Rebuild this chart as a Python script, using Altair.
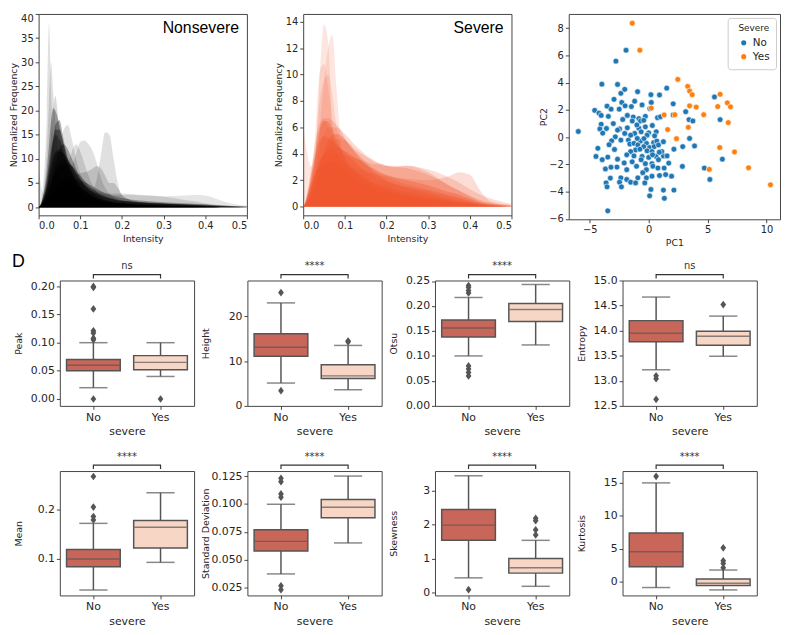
import altair as alt
import pandas as pd

# ---------------- data: intensity histograms ----------------
INTENSITY = [0.0, 0.005, 0.01, 0.02, 0.025, 0.03, 0.035, 0.04, 0.05, 0.06, 0.07, 0.08, 0.09,
             0.10, 0.11, 0.12, 0.13, 0.14, 0.15, 0.16, 0.17, 0.18, 0.19, 0.20, 0.22, 0.25,
             0.30, 0.35, 0.375, 0.40, 0.425, 0.45, 0.50]

NS_01 = [0, 1, 4, 20, 38, 24, 14, 10, 6, 4, 3, 2.2, 1.6, 1.2, 1.0, 0.8, 0.6, 0.5, 0.4, 0.3, 0.3, 0.2, 0.2, 0.2, 0.1, 0.1, 0.1, 0, 0, 0, 0, 0, 0]
NS_02 = [0, 0.5, 2, 12, 22, 30, 24, 18, 10, 6, 4, 3, 2.2, 1.8, 1.4, 1.1, 0.9, 0.7, 0.6, 0.5, 0.4, 0.3, 0.3, 0.2, 0.2, 0.1, 0.1, 0.1, 0, 0, 0, 0, 0]
NS_03 = [0, 0.3, 1, 6, 10, 15, 20, 23, 16, 10, 7, 5, 3.5, 2.5, 2, 1.6, 1.3, 1.0, 0.8, 0.7, 0.6, 0.5, 0.4, 0.4, 0.3, 0.2, 0.1, 0.1, 0.05, 0, 0, 0, 0]
NS_04 = [0, 0.5, 2, 8, 13, 18, 20.5, 20, 17, 13, 9, 6.5, 4.5, 3.2, 2.5, 2, 1.6, 1.3, 1.1, 0.9, 0.8, 0.7, 0.6, 0.5, 0.4, 0.3, 0.2, 0.1, 0.1, 0.05, 0, 0, 0]
NS_05 = [0, 0.3, 1, 4, 7, 10, 14, 17, 18, 14, 10, 7, 5, 3.5, 2.8, 2.2, 1.8, 1.5, 1.2, 1.0, 0.9, 0.8, 0.7, 0.6, 0.5, 0.4, 0.3, 0.2, 0.15, 0.1, 0.05, 0, 0]
NS_06 = [0, 0.2, 0.5, 2, 3, 4, 6, 8, 12, 16, 17, 14, 10, 7, 5, 3.5, 2.5, 2, 1.6, 1.3, 1.1, 0.9, 0.8, 0.7, 0.5, 0.4, 0.3, 0.2, 0.15, 0.1, 0.05, 0, 0]
NS_07 = [0, 0.5, 1.5, 5, 8, 11, 14, 16, 16, 13, 10, 8, 6, 4.5, 3.5, 2.8, 2.2, 1.8, 1.5, 1.2, 1.0, 0.9, 0.8, 0.7, 0.6, 0.4, 0.3, 0.2, 0.15, 0.1, 0.05, 0, 0]
NS_08 = [0, 0.2, 0.6, 2, 3.5, 5, 7, 9, 12, 13, 12, 10, 8, 6, 4.5, 3.5, 2.8, 2.2, 1.8, 1.5, 1.2, 1.0, 0.9, 0.8, 0.6, 0.5, 0.3, 0.2, 0.15, 0.1, 0.05, 0, 0]
NS_09 = [0, 0, 0.2, 0.8, 1.2, 1.6, 2, 2.6, 4, 6, 9, 11.5, 13, 11.5, 9, 6.5, 4.5, 3, 2.2, 1.6, 1.2, 1.0, 0.8, 0.7, 0.5, 0.4, 0.3, 0.2, 0.15, 0.1, 0.05, 0, 0]
NS_10 = [0, 0, 0.1, 0.5, 0.8, 1.0, 1.3, 1.6, 2.5, 4, 6, 8.5, 11, 13.5, 13.8, 13, 11.5, 9, 6, 4, 2.8, 2, 1.5, 1.2, 0.8, 0.5, 0.3, 0.2, 0.15, 0.1, 0.05, 0, 0]
NS_11 = [0, 0.2, 0.5, 1.5, 2, 2.5, 3, 3.5, 4, 4.5, 4.5, 4.5, 4.2, 4, 3.6, 3.2, 3.5, 6, 11, 15.5, 15, 10, 5, 2.5, 1.5, 1.0, 0.6, 0.4, 0.3, 0.2, 0.1, 0.1, 0]
NS_12 = [0, 0.2, 0.5, 1.2, 1.8, 2.4, 3, 3.5, 4.5, 5.5, 6, 6.5, 6.8, 7, 7.2, 7.5, 8, 8.5, 8, 6.5, 5, 5, 4, 2.5, 1.5, 1.0, 0.6, 0.4, 0.3, 0.2, 0.1, 0.1, 0]
NS_13 = [0, 0.2, 0.5, 1.5, 2, 2.5, 3, 3.5, 4, 4.2, 4.2, 4, 3.8, 3.6, 3.4, 3.2, 3, 2.9, 2.8, 2.7, 2.6, 2.5, 2.5, 2.5, 2.5, 2.4, 2.2, 2.4, 2.5, 2.4, 1.8, 1.0, 0.3]
NS_14 = [0, 0.3, 1, 3, 4.5, 6, 7, 7.5, 7.5, 7, 6.5, 6, 5.5, 5, 4.5, 4, 3.7, 3.4, 3.2, 3.0, 2.9, 2.8, 2.8, 2.8, 2.7, 2.5, 2.2, 1.5, 1.2, 0.8, 0.5, 0.3, 0.1]
NS_15 = [0, 0.5, 1.5, 4, 6, 8, 10, 11, 11.5, 11, 10, 8.5, 7, 5.5, 4.5, 3.8, 3.2, 2.7, 2.3, 2.0, 1.8, 1.6, 1.4, 1.3, 1.1, 0.9, 0.7, 0.5, 0.4, 0.3, 0.2, 0.1, 0]
NS_16 = [0, 0.3, 1, 3, 4, 5, 6, 7, 8.5, 9, 9, 8.5, 7.5, 6.5, 5.5, 4.5, 3.8, 3.2, 2.7, 2.3, 2.0, 1.8, 1.6, 1.4, 1.2, 1.0, 0.8, 0.6, 0.5, 0.4, 0.3, 0.2, 0.1]
NS_17 = [0, 0.4, 1.2, 4, 6, 8, 10, 11.5, 12, 11, 9, 7, 5.5, 4.2, 3.4, 2.8, 2.3, 1.9, 1.6, 1.4, 1.2, 1.0, 0.9, 0.8, 0.7, 0.5, 0.4, 0.3, 0.25, 0.2, 0.15, 0.1, 0]
NS_18 = [0, 0.2, 0.6, 1.5, 2, 2.5, 3, 3.5, 4.5, 5.5, 6, 6, 5.8, 5.5, 5.2, 4.8, 4.3, 3.8, 3.3, 2.9, 2.6, 2.3, 2.1, 1.9, 1.6, 1.3, 1.0, 0.8, 0.7, 0.6, 0.4, 0.3, 0.1]
NS_19 = [0, 0.1, 0.3, 0.6, 0.8, 1.0, 1.2, 1.4, 1.6, 1.8, 1.8, 1.8, 1.7, 1.6, 1.5, 1.4, 1.3, 1.2, 1.1, 1.0, 1.0, 0.9, 0.9, 0.9, 0.8, 0.8, 0.7, 0.6, 0.55, 0.5, 0.4, 0.3, 0.1]
NS_20 = [0, 0.5, 2, 6, 9, 12, 14, 15, 14, 11.5, 9, 7, 5.2, 4, 3.2, 2.6, 2.1, 1.7, 1.4, 1.2, 1.0, 0.9, 0.8, 0.7, 0.6, 0.4, 0.3, 0.2, 0.15, 0.1, 0.05, 0, 0]
NS_21 = [0, 0.3, 0.8, 2.5, 3.5, 5, 6.5, 8, 9.5, 10, 9.5, 8.5, 7, 5.8, 4.8, 4, 3.3, 2.8, 2.4, 2.1, 1.8, 1.6, 1.4, 1.3, 1.1, 0.9, 0.7, 0.5, 0.4, 0.3, 0.2, 0.1, 0]
NS_22 = [8, 5, 3, 2, 2, 2.5, 3, 3.5, 4, 4, 3.5, 3, 2.5, 2, 1.7, 1.4, 1.2, 1, 0.9, 0.8, 0.7, 0.6, 0.5, 0.5, 0.4, 0.3, 0.2, 0.1, 0.1, 0.1, 0, 0, 0]

NONSEVERE = [NS_01, NS_02, NS_03, NS_04, NS_05, NS_06, NS_07, NS_08, NS_09, NS_10, NS_11,
             NS_12, NS_13, NS_14, NS_15, NS_16, NS_17, NS_18, NS_19, NS_20, NS_21, NS_22]
NONSEVERE_ALPHA = [0.12, 0.12, 0.15, 0.3, 0.3, 0.12, 0.35, 0.3, 0.12, 0.12, 0.12,
                   0.15, 0.1, 0.12, 0.35, 0.35, 0.35, 0.3, 0.3, 0.3, 0.35, 0.1]

SV_01 = [0, 0.2, 0.5, 1.5, 2.5, 4, 7, 10, 13.8, 12.5, 6, 4, 3, 2.6, 2.3, 2.1, 1.9, 1.7, 1.5, 1.4, 1.3, 1.2, 1.1, 1.0, 0.9, 0.7, 0.5, 0.3, 0.2, 0.1, 0.05, 0, 0]
SV_02 = [0, 0.1, 0.3, 1, 1.5, 2.5, 4, 6, 9.5, 12, 13, 9, 5, 3.5, 2.8, 2.4, 2.1, 1.9, 1.7, 1.5, 1.4, 1.3, 1.2, 1.1, 1.0, 0.8, 0.6, 0.4, 0.3, 0.2, 0.1, 0.05, 0]
SV_03 = [0, 0.3, 0.8, 2.5, 4, 6, 8.5, 10.3, 10.8, 9, 6.5, 4.5, 3.5, 3, 2.6, 2.3, 2.1, 1.9, 1.7, 1.5, 1.4, 1.3, 1.2, 1.1, 1.0, 0.8, 0.6, 0.4, 0.3, 0.2, 0.1, 0.05, 0]
SV_04 = [0, 0.2, 0.6, 2, 3, 4.5, 6.5, 8, 9.5, 10, 8.5, 6, 4.5, 3.6, 3, 2.6, 2.3, 2.1, 1.9, 1.7, 1.5, 1.4, 1.3, 1.2, 1.0, 0.8, 0.6, 0.4, 0.3, 0.2, 0.1, 0.05, 0]
SV_05 = [0, 0.3, 1, 3, 4, 5, 5.8, 6.3, 6.7, 6.7, 6.5, 6.2, 5.8, 5.2, 4.7, 4.3, 4.0, 3.7, 3.4, 3.1, 2.9, 2.7, 2.5, 2.3, 2.0, 1.7, 1.3, 0.9, 0.7, 0.5, 0.3, 0.2, 0]
SV_06 = [0, 0.2, 0.5, 1.5, 2.2, 3, 3.8, 4.5, 5.5, 6, 6, 6, 5.8, 5.5, 5.2, 4.8, 4.5, 4.2, 3.9, 3.7, 3.5, 3.3, 3.2, 3.1, 3.0, 3.1, 2.6, 1.6, 1.2, 0.8, 0.5, 0.3, 0.1]
SV_07 = [0, 0.1, 0.4, 1.2, 1.8, 2.4, 3, 3.4, 3.8, 4, 4, 3.8, 3.6, 3.4, 3.2, 3, 2.9, 2.8, 2.7, 2.6, 2.5, 2.4, 2.3, 2.3, 2.2, 2.1, 2.0, 2.3, 2.6, 2.4, 1.2, 0.4, 0.1]
SV_08 = [0, 0.1, 0.3, 1, 1.5, 2, 2.6, 3.2, 4, 4.6, 5, 5.1, 5.1, 5, 4.8, 4.5, 4.2, 4, 3.8, 3.6, 3.4, 3.3, 3.2, 3.1, 3.0, 2.9, 2.4, 1.6, 1.2, 0.8, 0.4, 0.2, 0]
SV_09 = [6.5, 5, 4, 3, 3.5, 4.5, 5.5, 6, 6.5, 6, 5, 4.2, 3.6, 3.2, 2.9, 2.6, 2.3, 2.1, 1.9, 1.7, 1.5, 1.4, 1.3, 1.2, 1.0, 0.8, 0.5, 0.3, 0.2, 0.1, 0.05, 0, 0]
SV_10 = [0, 0.3, 1, 2.5, 3.2, 4, 4.6, 5, 5.3, 5.2, 5, 4.7, 4.4, 4.1, 3.8, 3.5, 3.2, 2.9, 2.7, 2.5, 2.3, 2.1, 2.0, 1.9, 1.7, 1.5, 1.2, 0.8, 0.6, 0.4, 0.2, 0.1, 0]
SV_11 = [0, 0.2, 0.6, 1.5, 2, 2.5, 3, 3.5, 4, 4.3, 4.5, 4.5, 4.4, 4.2, 4.0, 3.8, 3.6, 3.4, 3.2, 3.0, 2.8, 2.6, 2.5, 2.4, 2.2, 2.0, 1.6, 1.1, 0.9, 0.6, 0.3, 0.15, 0.05]
SV_12 = [0, 0.1, 0.3, 1, 1.5, 2, 2.6, 3.2, 4.2, 5, 5.4, 5.5, 5.4, 5.1, 4.7, 4.3, 3.9, 3.5, 3.2, 2.9, 2.6, 2.4, 2.2, 2.0, 1.7, 1.4, 1.0, 0.6, 0.4, 0.3, 0.1, 0.05, 0]
SV_13 = [0, 0.1, 0.3, 0.8, 1.2, 1.6, 2, 2.4, 3, 3.5, 3.8, 4, 4, 3.9, 3.8, 3.7, 3.6, 3.5, 3.4, 3.3, 3.2, 3.2, 3.1, 3.1, 3.1, 3.1, 2.8, 2.2, 1.8, 1.3, 0.9, 0.6, 0.2]
SV_14 = [0, 0.3, 0.8, 1.8, 2.2, 2.6, 2.9, 3.1, 3.3, 3.4, 3.4, 3.3, 3.2, 3.1, 3.0, 2.8, 2.6, 2.4, 2.2, 2.0, 1.8, 1.7, 1.6, 1.5, 1.3, 1.1, 0.8, 0.5, 0.4, 0.3, 0.2, 0.1, 0]
SV_15 = [0, 0.2, 0.6, 2, 3, 4, 5, 5.8, 6.5, 6.4, 5.8, 5, 4.3, 3.7, 3.2, 2.8, 2.5, 2.2, 2.0, 1.8, 1.6, 1.5, 1.4, 1.3, 1.1, 0.9, 0.6, 0.4, 0.3, 0.2, 0.1, 0.05, 0]

SEVERE = [SV_01, SV_02, SV_03, SV_04, SV_05, SV_06, SV_07, SV_08, SV_09, SV_10, SV_11,
          SV_12, SV_13, SV_14, SV_15]
SEVERE_ALPHA = [0.15, 0.15, 0.15, 0.15, 0.22, 0.22, 0.2, 0.22, 0.15, 0.35, 0.35,
                0.35, 0.2, 0.4, 0.35]

# ---------------- data: PCA scatter ----------------
PC1_NO = [-5.97, -3.47, -1.92, -2.78, -3.97, -2.64, -2.36, -2.03, -0.94, 0.19, 0.92, 1.53, 5.58,
          -2.94, -1.19, -2.28, 0.22, 2.08, -4.58, -4.22, -3.53, -3.19, -2.50, -2.00, -1.47, -0.56,
          3.14, 6.06, 3.42, 3.75, 0.75, 2.08, -4.03, -3.42, -1.81, -1.31, -0.83, -0.28, -4.03,
          -3.58, -4.14, -2.47, -2.64, -1.81, -1.39, -0.69, -0.28, -0.83, 0.00, 0.64, 0.31, -0.42,
          -2.83, -3.14, -3.36, -4.31, -2.36, -1.72, -1.19, -0.64, -1.60, -1.25, -0.69, -0.19, 0.42,
          0.69, -0.92, -0.42, 0.08, 0.47, 0.83, -0.14, 0.28, -1.11, -0.75, -1.53, -1.86, -1.25,
          -0.56, 0.00, 0.64, 1.25, 1.56, 2.14, 2.89, 3.47, 3.89, -4.47, -3.94, -3.47, -2.64, -2.08,
          -0.28, 0.28, -1.03, -0.64, -0.19, 0.36, 0.83, -3.67, -2.69, -1.86, 1.31, 2.86, 4.72, 5.19,
          6.25, 1.44, 1.94, 0.92, 0.28, -0.19, -0.92, -2.36, -1.86, -3.25, -1.53, -1.11, -0.33,
          -2.47, -3.61, -3.53, -2.31, 0.19, 1.25, 2.14, 0.08, 1.33, 0.78, 0.33, -0.97, -1.53, -2.03,
          1.11, 1.25, -0.14, -1.00, -0.40, 0.50, 1.00, -2.90, -3.00, 0.90, -0.50, -2.20, -3.20,
          1.70, -1.40, 0.10, -3.90]
PC2_NO = [0.42, -5.40, 6.38, 5.58, 3.89, 3.87, 3.22, 3.51, 3.34, 3.12, 3.10, 3.60, 2.95,
          2.78, 2.64, 2.55, 2.55, 2.45, 1.97, 1.77, 2.28, 2.06, 2.06, 2.30, 2.25, 2.37,
          1.87, 1.29, 1.29, 1.19, 1.43, 1.63, 1.60, 1.53, 1.60, 1.48, 1.36, 1.53, 0.95,
          0.64, 0.61, 0.61, 0.52, 0.69, 1.19, 1.19, 0.76, 0.66, 0.32, 0.40, 0.86, 1.24,
          0.03, -0.26, -0.55, -0.81, -0.21, -0.21, 0.28, 0.40, -0.50, -0.45, -0.28, -0.45, -0.40,
          -0.28, -0.57, -0.69, -0.76, -0.69, -0.57, -1.00, -1.05, -0.93, -0.88, -1.05, -1.29, -1.37,
          -1.41, -1.48, -1.41, -1.37, -1.37, -0.88, -0.69, -0.09, -0.64, -1.41, -1.65, -1.46, -1.61, -1.89,
          -1.94, -1.94, -2.13, -1.65, -2.38, -2.13, -1.65, -2.33, -2.19, -2.38, -2.26, -2.14, -2.26, -3.10,
          -1.61, -2.74, -2.86, -2.81, -2.86, -2.98, -2.98, -2.98, -3.10, -3.00, -3.30, -3.35, -3.35,
          -3.30, -3.35, -3.64, -3.64, -3.83, -3.88, -3.88, -4.30, -4.48, -2.26, -1.29, -0.09, 0.15, 0.28,
          -1.05, -0.33, 0.15, 0.90, -0.10, 0.10, 1.50, -0.90, 1.00, -1.10, -2.60, 1.30, -2.20,
          -1.90, -1.80, 2.10, 0.30]
PC1_YES = [-1.39, -0.75, 2.47, 3.31, 3.47, 3.69, 3.47, 4.03, 0.22, 1.31, 2.22, 4.67, 6.06,
           5.86, 6.67, 6.94, 6.75, 1.61, 2.36, 3.36, 6.03, 7.28, 5.14, 8.47, 10.33]
PC2_YES = [8.36, 6.38, 4.24, 3.73, 3.39, 3.12, 2.30, 2.21, 2.14, 1.63, 1.65, 1.65, 3.15,
           2.25, 2.52, 2.23, 1.07, 0.56, -0.11, 0.73, -0.76, -1.08, -2.36, -2.24, -3.49]

# ---------------- data: box plots (whisker low, q1, median, q3, whisker high) ----------------
PANELS = ["Peak", "Height", "Otsu", "Entropy", "Mean", "Standard Deviation", "Skewness", "Kurtosis"]
SIGNIF = ["ns", "****", "****", "ns", "****", "****", "****", "****"]

PEAK_NO = [0.020, 0.050, 0.060, 0.070, 0.100]
PEAK_YES = [0.040, 0.052, 0.065, 0.077, 0.100]
PEAK_NO_OUT = [0.200, 0.198, 0.160, 0.121, 0.117, 0.108, 0.105, 0.0]
PEAK_YES_OUT = [0.0]
HEIGHT_NO = [5.1, 11.1, 13.1, 16.1, 23.0]
HEIGHT_YES = [3.6, 6.1, 6.7, 9.2, 13.5]
HEIGHT_NO_OUT = [25.3, 3.4]
HEIGHT_YES_OUT = [14.5, 14.3]
OTSU_NO = [0.100, 0.138, 0.156, 0.172, 0.217]
OTSU_YES = [0.122, 0.169, 0.193, 0.205, 0.243]
OTSU_NO_OUT = [0.241, 0.237, 0.231, 0.226, 0.080, 0.074, 0.067, 0.060]
OTSU_YES_OUT = []
ENTROPY_NO = [13.22, 13.78, 13.95, 14.20, 14.67]
ENTROPY_YES = [13.49, 13.71, 13.89, 13.99, 14.29]
ENTROPY_NO_OUT = [13.10, 13.04, 12.63]
ENTROPY_YES_OUT = [14.52]
MEAN_NO = [0.037, 0.084, 0.100, 0.119, 0.172]
MEAN_YES = [0.093, 0.122, 0.164, 0.178, 0.234]
MEAN_NO_OUT = [0.267, 0.205, 0.186, 0.179]
MEAN_YES_OUT = []
STD_NO = [0.0372, 0.0577, 0.0664, 0.0768, 0.0997]
STD_YES = [0.065, 0.0875, 0.097, 0.104, 0.125]
STD_NO_OUT = [0.123, 0.120, 0.109, 0.106, 0.0265, 0.023]
STD_YES_OUT = []
SKEW_NO = [0.43, 1.54, 1.99, 2.45, 3.45]
SKEW_YES = [0.18, 0.57, 0.73, 1.00, 1.54]
SKEW_NO_OUT = [0.08]
SKEW_YES_OUT = [2.19, 2.12, 1.85, 1.70]
KURT_NO = [-0.9, 2.26, 4.53, 7.4, 15.0]
KURT_YES = [-1.26, -0.60, -0.25, 0.40, 1.76]
KURT_NO_OUT = [16.0]
KURT_YES_OUT = [5.13, 3.17, 2.77, 2.10]

BOX_STATS = [(PEAK_NO, PEAK_YES, PEAK_NO_OUT, PEAK_YES_OUT),
             (HEIGHT_NO, HEIGHT_YES, HEIGHT_NO_OUT, HEIGHT_YES_OUT),
             (OTSU_NO, OTSU_YES, OTSU_NO_OUT, OTSU_YES_OUT),
             (ENTROPY_NO, ENTROPY_YES, ENTROPY_NO_OUT, ENTROPY_YES_OUT),
             (MEAN_NO, MEAN_YES, MEAN_NO_OUT, MEAN_YES_OUT),
             (STD_NO, STD_YES, STD_NO_OUT, STD_YES_OUT),
             (SKEW_NO, SKEW_YES, SKEW_NO_OUT, SKEW_YES_OUT),
             (KURT_NO, KURT_YES, KURT_NO_OUT, KURT_YES_OUT)]
BOX_DOMAINS = [[-0.0123, 0.2105], [0, 28], [0, 0.251], [12.5, 15.0],
               [0.026, 0.278], [0.0179, 0.1295], [-0.09, 3.59], [-2.1, 16.8]]
BOX_TICKS = [[0, 0.05, 0.10, 0.15, 0.20], [0, 10, 20], [0, 0.05, 0.10, 0.15, 0.20, 0.25],
             [12.5, 13.0, 13.5, 14.0, 14.5, 15.0], [0.1, 0.2],
             [0.025, 0.050, 0.075, 0.100, 0.125], [0, 1, 2, 3], [0, 5, 10, 15]]
BOX_FORMATS = [".2f", "d", ".2f", ".1f", ".1f", ".3f", "d", "d"]

CATS = ["No", "Yes"]

# ---------------- styling ----------------
FONT = "DejaVu Sans"
TXT = "#262626"
LINE = "#555555"
NO_FILL = "#c8665a"
YES_FILL = "#f8d6c5"
DIAMOND = "M0,-1L0.75,0L0,1L-0.75,0Z"


def hist_panel(curves, alphas, color, ydom, yticks, label, w, h, extra=None, flush=False):
    rows = []
    for k, (ys, a) in enumerate(zip(curves, alphas)):
        assert len(ys) == len(INTENSITY), (label, k, len(ys))
        for xv, yv in zip(INTENSITY, ys):
            rows.append({"curve": k, "x": xv, "y": yv, "base": 0.0, "op": a})
    df = pd.DataFrame(rows)
    areas = alt.Chart(df).mark_area(color=color, interpolate="monotone").encode(
        x=alt.X("x:Q", scale=alt.Scale(domain=[0, 0.5], nice=False, zero=False),
                axis=alt.Axis(values=[0, 0.1, 0.2, 0.3, 0.4, 0.5], format=".1f",
                              title="Intensity", labelFontSize=10, titleFontSize=9.5,
                              titlePadding=3)),
        y=alt.Y("y:Q", stack=None, scale=alt.Scale(domain=ydom, nice=False, zero=False),
                axis=alt.Axis(values=yticks, title="Normalized Frequency", labelFontSize=10,
                              titleFontSize=9.5, minExtent=18, maxExtent=18, titlePadding=2,
                              labelFlush=flush)),
        y2="base:Q",
        detail="curve:N",
        opacity=alt.Opacity("op:Q", scale=None),
    )
    txt = alt.Chart(pd.DataFrame({"t": [label]})).mark_text(
        align="right", baseline="alphabetic", fontSize=16, font="Liberation Sans", color="black"
    ).encode(text="t:N", x=alt.value(w - 8), y=alt.value(19))
    layers = [areas, txt]
    if extra is not None:
        layers.append(extra)
    return alt.layer(*layers).properties(width=w, height=h)


# D panel letter (anchored to first top panel)
d_label = alt.Chart(pd.DataFrame({"t": ["D"]})).mark_text(
    align="left", baseline="alphabetic", fontSize=18, font="Liberation Sans", color="black"
).encode(text="t:N", x=alt.value(-27), y=alt.value(256))

p1 = hist_panel(NONSEVERE, NONSEVERE_ALPHA, "black", [-1.7, 40],
                [0, 5, 10, 15, 20, 25, 30, 35, 40], "Nonsevere", 211, 204, extra=d_label,
                flush=True)
p2 = hist_panel(SEVERE, SEVERE_ALPHA, "#f0552d", [-0.67, 14.6],
                [0, 2, 4, 6, 8, 10, 12, 14], "Severe", 211, 204)

sc_df = pd.concat([
    pd.DataFrame({"pc1": PC1_NO, "pc2": PC2_NO, "Severe": "No"}),
    pd.DataFrame({"pc1": PC1_YES, "pc2": PC2_YES, "Severe": "Yes"}),
], ignore_index=True)

p3 = alt.Chart(sc_df).mark_point(filled=True, size=34, stroke="white", strokeWidth=0.6,
                                  opacity=1).encode(
    x=alt.X("pc1:Q", scale=alt.Scale(domain=[-6.78, 11.14], nice=False, zero=False),
            axis=alt.Axis(values=[-5, 0, 5, 10], title="PC1", labelFontSize=10,
                          titleFontSize=9.5, titlePadding=3)),
    y=alt.Y("pc2:Q", scale=alt.Scale(domain=[-6.02, 9.04], nice=False, zero=False),
            axis=alt.Axis(values=[-6, -4, -2, 0, 2, 4, 6, 8], title="PC2", labelFontSize=10,
                          titleFontSize=9.5, minExtent=18, maxExtent=18, titlePadding=3)),
    color=alt.Color("Severe:N", scale=alt.Scale(domain=CATS, range=["#1f77b4", "#ff7f0e"]),
                    legend=alt.Legend(title="Severe", orient="top-right", offset=4,
                                      fillColor="white", strokeColor="#cccccc", padding=6,
                                      cornerRadius=3, titleFontSize=9,
                                      titleFontWeight="normal", titleAnchor="end",
                                      labelFontSize=10.5, symbolSize=45, symbolType="circle",
                                      symbolOffset=5, rowPadding=0, labelColor=TXT,
                                      titleColor=TXT)),
).properties(width=214, height=208)


def box_panel(i, w, h):
    no, yes, no_out, yes_out = BOX_STATS[i]
    dom = BOX_DOMAINS[i]
    span = dom[1] - dom[0]
    st = pd.DataFrame({"cat": CATS, "lo": [no[0], yes[0]], "q1": [no[1], yes[1]],
                       "med": [no[2], yes[2]], "q3": [no[3], yes[3]], "hi": [no[4], yes[4]]})
    caps = pd.DataFrame({"cat": ["No", "No", "Yes", "Yes"],
                         "v": [no[0], no[4], yes[0], yes[4]]})
    outs = pd.DataFrame({"cat": ["No"] * len(no_out) + ["Yes"] * len(yes_out),
                         "v": list(no_out) + list(yes_out)})
    top_lvl = dom[1] + span * 6 / h
    end_lvl = dom[1] + span * 2 / h
    br = pd.DataFrame({"cat": ["No", "No", "Yes", "Yes"],
                       "v": [end_lvl, top_lvl, top_lvl, end_lvl], "i": [0, 1, 2, 3]})

    xs = alt.Scale(domain=CATS, paddingInner=0.2, paddingOuter=0.1)
    xax = alt.Axis(title="severe", labelAngle=0, labelFontSize=11, titleFontSize=11,
                   titlePadding=4)
    ys = alt.Scale(domain=dom, nice=False, zero=False)
    yax = alt.Axis(values=BOX_TICKS[i], format=BOX_FORMATS[i], title=PANELS[i],
                   labelFontSize=11, titleFontSize=9.5, minExtent=31, maxExtent=31,
                   titlePadding=6)
    X = alt.X("cat:N", scale=xs, axis=xax)

    whisk = alt.Chart(st).mark_rule(color=LINE, strokeWidth=1.5).encode(
        x=X, y=alt.Y("lo:Q", scale=ys, axis=yax), y2="hi:Q")
    cap = alt.Chart(caps).mark_tick(color=LINE, size=0.21 * w, thickness=1.5).encode(
        x=X, y=alt.Y("v:Q", scale=ys, axis=yax))
    box_no = alt.Chart(st[st["cat"] == "No"]).mark_bar(
        fill=NO_FILL, stroke=LINE, strokeWidth=1.5).encode(
        x=X, y=alt.Y("q1:Q", scale=ys, axis=yax), y2="q3:Q")
    box_yes = alt.Chart(st[st["cat"] == "Yes"]).mark_bar(
        fill=YES_FILL, stroke=LINE, strokeWidth=1.5).encode(
        x=X, y=alt.Y("q1:Q", scale=ys, axis=yax), y2="q3:Q")
    med = alt.Chart(st).mark_tick(color=LINE, size=0.4 * w - 1.5, thickness=1.5).encode(
        x=X, y=alt.Y("med:Q", scale=ys, axis=yax))
    out = alt.Chart(outs).mark_point(shape=DIAMOND, filled=True, color=LINE, size=60,
                                     opacity=1).encode(
        x=X, y=alt.Y("v:Q", scale=ys, axis=yax))
    brk = alt.Chart(br).mark_line(color="#333333", strokeWidth=1.2).encode(
        x=X, y=alt.Y("v:Q", scale=ys, axis=yax), order="i:Q")
    return alt.layer(whisk, cap, box_no, box_yes, med, out, brk).properties(
        width=w, height=h,
        title=alt.TitleParams(SIGNIF[i], fontSize=10, offset=1, fontWeight="normal",
                              color="#333333", frame="group", anchor="middle"))


# invisible spacer that sets the left reference of the lower block
spacer = alt.Chart(pd.DataFrame({"a": [0]})).mark_point(opacity=0).encode(
    x=alt.value(0), y=alt.value(0)
).properties(width=1, height=1, view=alt.ViewBackground(strokeOpacity=0))

row1 = alt.hconcat(*[box_panel(i, 136, 127) for i in range(4)], spacing=5)
row2 = alt.hconcat(*[box_panel(i, 136, 126) for i in range(4, 8)], spacing=5)
top = alt.hconcat(p1, p2, p3, spacing=25).resolve_scale(color="independent")
bottom = alt.hconcat(spacer, alt.vconcat(row1, row2, spacing=14), spacing=-29.5)

chart = alt.concat(top, bottom, columns=1, align="none", spacing=-11).resolve_scale(
    color="independent"
).properties(
    padding={"left": 0, "top": 1, "right": 0, "bottom": 0}
).configure(font=FONT).configure_view(
    stroke="#444444", strokeWidth=1
).configure_axis(
    domain=False, grid=False, tickColor="#333333", tickSize=3.5, tickWidth=0.9,
    labelColor=TXT, titleColor=TXT, titleFontWeight="normal",
    labelFont=FONT, titleFont=FONT, labelPadding=2
).configure_title(font=FONT)

chart.save("out.html", embed_options={"renderer": "svg", "actions": False})
